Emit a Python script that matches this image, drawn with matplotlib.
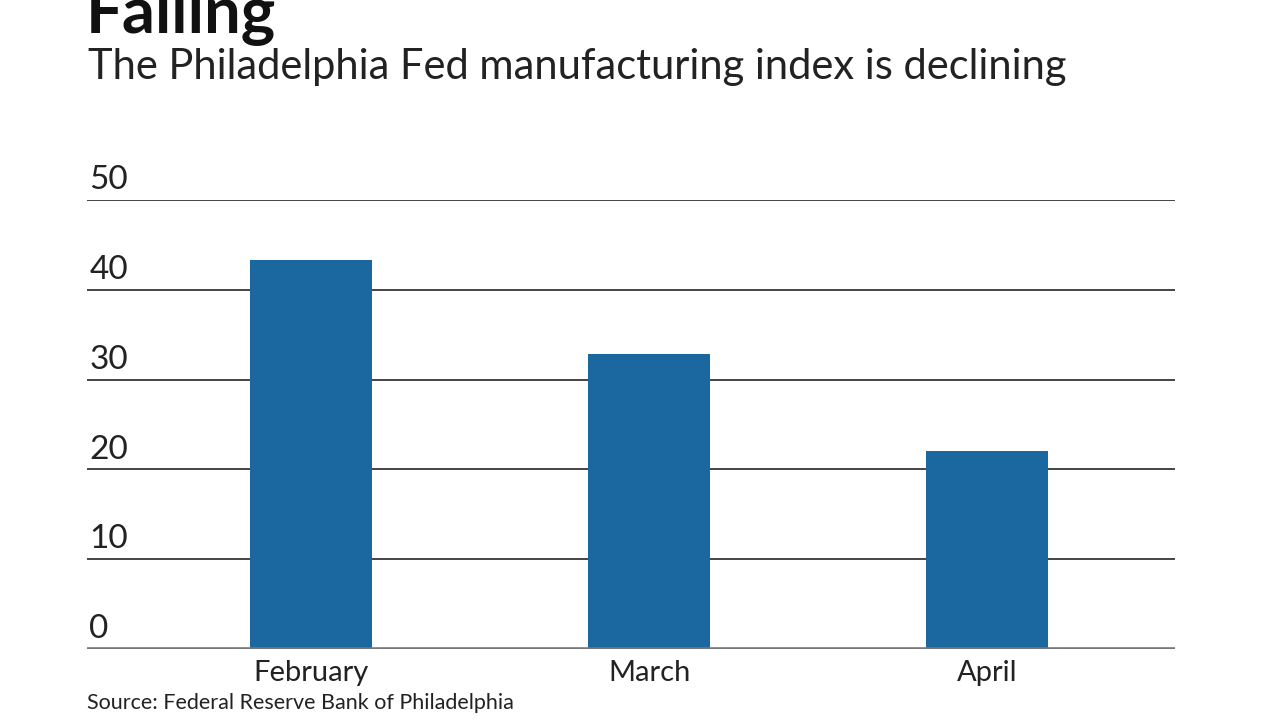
import matplotlib
matplotlib.use("Agg")
from matplotlib import pyplot as plt
from matplotlib import transforms

plt.rcParams['font.family'] = ['Lato', 'DejaVu Sans']

# data
months = ['February', 'March', 'April']
index_values = [43.3, 32.8, 22.0]
y_ticks = [0, 10, 20, 30, 40, 50]

title = 'Falling'
subtitle = 'The Philadelphia Fed manufacturing index is declining'
source = 'Source: Federal Reserve Bank of Philadelphia'

W, H = 1280, 720
fig = plt.figure(figsize=(12.8, 7.2), dpi=100)
ax = fig.add_axes([87 / W, 1 - 649 / H, (1175 - 87) / W, (649 - 200) / H])

x = list(range(len(months)))
ax.bar(x, index_values, width=0.36, color='#1b67a0', zorder=3)

ax.set_xlim(-0.663, 2.556)
ax.set_ylim(0, 50)

# grid lines
for t in y_ticks:
    if t == 0:
        ax.axhline(t, color='#777777', lw=2.6, zorder=4)
    else:
        ax.axhline(t, color='#444444', lw=1.4, zorder=1)

# y labels sit above the grid lines, left aligned
trans = transforms.blended_transform_factory(ax.transAxes, ax.transData)
for t in y_ticks:
    ax.annotate(str(t), xy=(0.002, t), xycoords=trans, xytext=(0, 3.5),
                textcoords='offset points', ha='left', va='bottom',
                fontsize=24, color='#222222')

ax.set_xticks(x)
ax.set_xticklabels(months, fontsize=21, color='#222222')
ax.tick_params(axis='x', length=0, pad=8)
ax.set_yticks([])
for s in ax.spines.values():
    s.set_visible(False)

fig.text(86 / W, 1 - 33 / H, title, fontsize=47, fontweight='bold',
         va='baseline', ha='left', color='#111111')
fig.text(88 / W, 1 - 79 / H, subtitle, fontsize=30,
         va='baseline', ha='left', color='#222222')
fig.text(87 / W, 1 - 709 / H, source, fontsize=15.5,
         va='baseline', ha='left', color='#222222')

fig.savefig('out.png', dpi=100)
